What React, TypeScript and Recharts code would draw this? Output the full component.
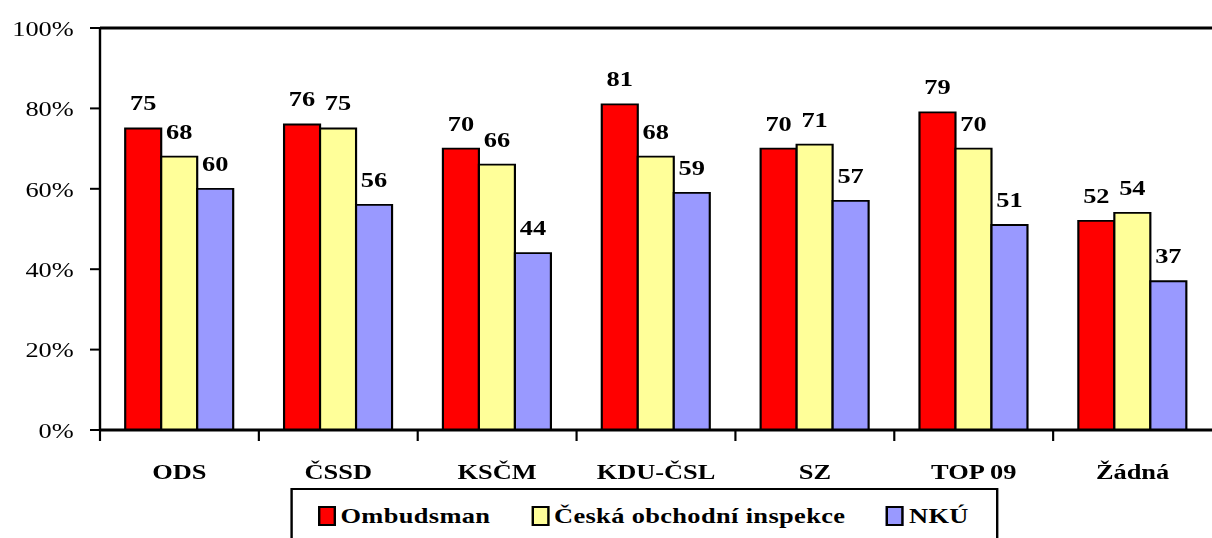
import { BarChart, Bar, XAxis, YAxis, LabelList, ReferenceLine } from "recharts";

const categories = ["ODS", "ČSSD", "KSČM", "KDU-ČSL", "SZ", "TOP 09", "Žádná"];
const ombudsman = [75, 76, 70, 81, 70, 79, 52];
const ceskaInspekce = [68, 75, 66, 68, 71, 70, 54];
const nku = [60, 56, 44, 59, 57, 51, 37];
const yTicks = [0, 20, 40, 60, 80, 100];

const seriesNames = ["Ombudsman", "Česká obchodní inspekce", "NKÚ"];
const seriesKeys = ["ombudsman", "coi", "nku"];
const seriesColors = ["#ff0000", "#ffff99", "#9999ff"];

const data = categories.map((name, i) => ({
  name,
  ombudsman: ombudsman[i],
  coi: ceskaInspekce[i],
  nku: nku[i],
}));

const FONT = "Liberation Serif, Times New Roman, serif";
// the original picture is stretched horizontally, so draw narrower and scale
const STRETCH = 1.2;
const W = 1212 / STRETCH;
const H = 538;

function CategoryTick(props: any) {
  const { x, y, payload } = props;
  const left = x - (payload.offset ?? 0);
  return (
    <g>
      <line x1={left} x2={left} y1={y} y2={y + 11} stroke="#000" strokeWidth={1.8} />
      <text
        x={x}
        y={y + 49}
        textAnchor="middle"
        style={{ fontFamily: FONT, fontSize: 22, fontWeight: "bold" }}
        fill="#000"
      >
        {payload.value}
      </text>
    </g>
  );
}

export default function App() {
  return (
    <div
      style={{
        position: "absolute",
        left: 0,
        top: 0,
        width: 1212,
        height: H,
        overflow: "hidden",
        background: "#fff",
      }}
    >
      <div
        style={{
          position: "relative",
          width: W,
          height: H,
          transform: `scaleX(${STRETCH})`,
          transformOrigin: "0 0",
          fontFamily: FONT,
        }}
      >
        <BarChart
          width={W}
          height={H}
          data={data}
          margin={{ top: 28, right: 0, bottom: 0, left: 0 }}
          barGap={0}
          barSize={30}
        >
          <XAxis
            dataKey="name"
            axisLine={{ stroke: "#000", strokeWidth: 3 }}
            tickLine={false}
            tickSize={0}
            tickMargin={0}
            interval={0}
            tick={<CategoryTick />}
            height={108}
          />
          <YAxis
            width={100 / STRETCH}
            domain={[0, 100]}
            ticks={yTicks}
            interval={0}
            tickFormatter={(v) => `${v}%`}
            axisLine={{ stroke: "#000", strokeWidth: 2 }}
            tickLine={{ stroke: "#000", strokeWidth: 2 }}
            tickSize={10 / STRETCH}
            tickMargin={13.5}
            tick={{ fill: "#000", fontSize: 22 }}
            style={{ fontFamily: FONT }}
          />
          <ReferenceLine y={100} stroke="#000" strokeWidth={3} />
          {seriesKeys.map((key, i) => (
            <Bar
              key={key}
              dataKey={key}
              name={seriesNames[i]}
              fill={seriesColors[i]}
              stroke="#000"
              strokeWidth={1.8}
              isAnimationActive={false}
            >
              <LabelList
                dataKey={key}
                position="top"
                offset={18}
                fill="#000"
                style={{ fontFamily: FONT, fontSize: 22, fontWeight: "bold" }}
              />
            </Bar>
          ))}
        </BarChart>
        <div
          style={{
            position: "absolute",
            left: 290 / STRETCH,
            top: 488,
            width: 708 / STRETCH,
            height: 60,
            border: "2px solid #000",
            background: "#fff",
            display: "flex",
            alignItems: "flex-start",
            paddingLeft: 21,
            paddingTop: 13,
            boxSizing: "border-box",
            gap: 34,
            fontFamily: FONT,
            fontSize: 22,
            fontWeight: "bold",
            letterSpacing: 0.3,
          }}
        >
          {seriesNames.map((name, i) => (
            <div key={name} style={{ display: "flex", alignItems: "center" }}>
              <span
                style={{
                  display: "inline-block",
                  width: 11,
                  height: 16,
                  background: seriesColors[i],
                  border: "2px solid #000",
                  marginRight: 4,
                }}
              />
              <span>{name}</span>
            </div>
          ))}
        </div>
      </div>
    </div>
  );
}
